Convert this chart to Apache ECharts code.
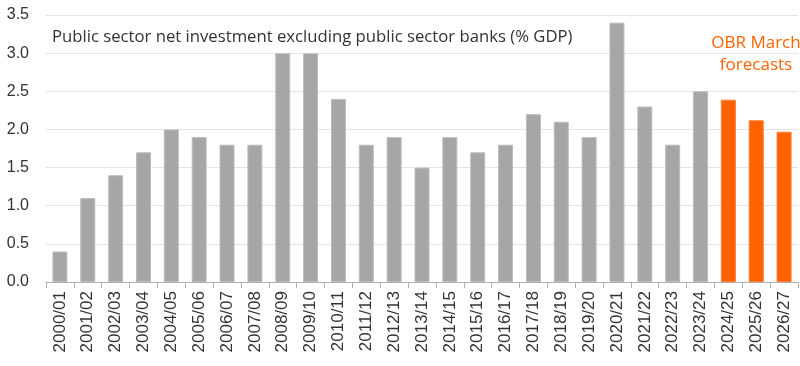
<!DOCTYPE html>
<html><head><meta charset="utf-8">
<script src="https://cdn.jsdelivr.net/npm/echarts@6/dist/echarts.min.js"></script>
<style>html,body{margin:0;padding:0;background:#fff}#c{width:800px;height:366px}</style>
</head><body><div id="c"></div>
<script>
const categories = ["2000/01","2001/02","2002/03","2003/04","2004/05","2005/06","2006/07","2007/08","2008/09","2009/10","2010/11","2011/12","2012/13","2013/14","2014/15","2015/16","2016/17","2017/18","2018/19","2019/20","2020/21","2021/22","2022/23","2023/24","2024/25","2025/26","2026/27"];
const outturn = [0.4,1.1,1.4,1.7,2.0,1.9,1.8,1.8,3.0,3.0,2.4,1.8,1.9,1.5,1.9,1.7,1.8,2.2,2.1,1.9,3.4,2.3,1.8,2.5,null,null,null];
const forecast = [null,null,null,null,null,null,null,null,null,null,null,null,null,null,null,null,null,null,null,null,null,null,null,null,2.39,2.12,1.97];
const titleText = "Public sector net investment excluding public sector banks (% GDP)";
const noteLines = ["OBR March","forecasts"];

const chart = echarts.init(document.getElementById('c'), null, {renderer:'canvas'});
chart.setOption({
  animation:false,
  grid:{left:46,right:2,top:15,bottom:84,containLabel:false},
  title:{text:titleText,left:47,top:24,textStyle:{fontFamily:'Open Sans',fontSize:16.7,fontWeight:'normal',color:'#333'}},
  graphic:[{type:'text',x:756,y:32,style:{text:noteLines.join('\n'),fill:'#ff6200',font:'17px "Open Sans"',lineHeight:22,textAlign:'center'}}],
  xAxis:{type:'category',data:categories,
    axisLine:{lineStyle:{color:'#b0b0b0'}},
    axisTick:{show:true,length:6,lineStyle:{color:'#b0b0b0'}},
    axisLabel:{rotate:90,interval:0,margin:9,fontFamily:'Liberation Sans',fontSize:17,color:'#333'}},
  yAxis:{type:'value',min:0,max:3.5,interval:0.5,
    axisLine:{show:false},axisTick:{show:false},
    splitLine:{lineStyle:{color:'#e4e4e4'}},
    axisLabel:{formatter:v=>v.toFixed(1),margin:17,fontFamily:'Liberation Sans',fontSize:16,color:'#333'}},
  series:[
    {type:'bar',stack:'a',data:outturn,barWidth:15,itemStyle:{color:'#a6a6a6',borderColor:'#bdbdbd',borderWidth:1}},
    {type:'bar',stack:'a',data:forecast,barWidth:15,itemStyle:{color:'#ff6200',borderColor:'#ff7d33',borderWidth:1}}
  ]
});
</script></body></html>
